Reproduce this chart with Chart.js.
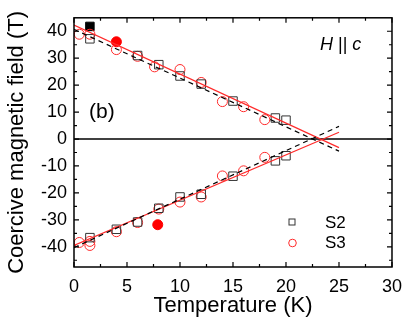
<!DOCTYPE html>
<html><head><meta charset="utf-8">
<script src="https://cdn.jsdelivr.net/npm/chart.js@4.4.1/dist/chart.umd.min.js"></script>
<style>html,body{margin:0;padding:0;background:#fff}</style>
</head><body>
<canvas id="c" width="411" height="324" style="width:411px;height:324px;display:block"></canvas>
<script>
// ---- data ----
const xTicks = [0, 5, 10, 15, 20, 25, 30];
const yTicks = [-40, -30, -20, -10, 0, 10, 20, 30, 40];

const s2PosT = [1.5, 6, 8, 10, 12, 15, 19, 20];
const s2PosH = [37.2, 31, 27.6, 23.4, 20.4, 14.1, 7.8, 7];
const s2NegT = [1.5, 4, 6, 8, 10, 12, 15, 19, 20];
const s2NegH = [-36.6, -33.5, -30.8, -25.7, -21.5, -20.5, -13.8, -8.1, -6.2];

const s3PosT = [0.5, 1.5, 4, 6, 7.6, 10, 12, 14, 16, 18];
const s3PosH = [38.9, 38.9, 33.2, 30.7, 26.8, 25.8, 21, 13.9, 12, 7.2];
const s3NegT = [0.5, 1.5, 1.5, 4, 6, 8, 10, 12, 14, 16, 18];
const s3NegH = [-38.4, -38, -39.5, -34.4, -31, -26, -23.4, -21.5, -13.7, -11.8, -6.8];

const s2FilledT = [1.5];
const s2FilledH = [41.8];
const s3FilledT = [4, 7.9];
const s3FilledH = [36.1, -31.8];

const fitT = [0, 25];
const fitS2Pos = [40.7, -4.5];
const fitS2Neg = [-40.3, 4.7];
const fitS3Pos = [42.3, -3.2];
const fitS3Neg = [-39.5, 2.5];

const pts = (xs, ys) => xs.map((v, i) => ({x: v, y: ys[i]}));

const RED = '#ff2a2a';
const BLK = '#333333';
const FONT = "'Liberation Sans', Arial, sans-serif";

Chart.defaults.font.family = FONT;
Chart.defaults.color = '#000';

const deco = {
  id: 'deco',
  beforeDatasetsDraw(chart) {
    const {ctx, chartArea: a, scales: {y}} = chart;
    ctx.save();
    ctx.strokeStyle = '#000';
    ctx.lineWidth = 1.5;
    const y0 = y.getPixelForValue(0);
    ctx.beginPath(); ctx.moveTo(a.left, y0); ctx.lineTo(a.right, y0); ctx.stroke();
    ctx.restore();
  },
  afterDatasetsDraw(chart) {
    const {ctx, chartArea: a, scales: {x, y}} = chart;
    ctx.save();
    ctx.strokeStyle = '#000';
    ctx.lineWidth = 1.5;
    ctx.strokeRect(a.left, a.top, a.right - a.left, a.bottom - a.top);
    ctx.lineWidth = 1.2;
    ctx.beginPath();
    for (let i = 0; i < xTicks.length; i++) {
      const px = x.getPixelForValue(xTicks[i]);
      ctx.moveTo(px, a.bottom); ctx.lineTo(px, a.bottom - 5);
      ctx.moveTo(px, a.top); ctx.lineTo(px, a.top + 5);
      if (i < xTicks.length - 1) {
        const pm = x.getPixelForValue((xTicks[i] + xTicks[i + 1]) / 2);
        ctx.moveTo(pm, a.bottom); ctx.lineTo(pm, a.bottom - 3);
        ctx.moveTo(pm, a.top); ctx.lineTo(pm, a.top + 3);
      }
    }
    for (let i = 0; i < yTicks.length; i++) {
      const py = y.getPixelForValue(yTicks[i]);
      ctx.moveTo(a.left, py); ctx.lineTo(a.left + 5, py);
      ctx.moveTo(a.right, py); ctx.lineTo(a.right - 5, py);
      const mids = [];
      if (i < yTicks.length - 1) mids.push((yTicks[i] + yTicks[i + 1]) / 2);
      if (i === 0) mids.push(yTicks[0] - 5);
      mids.forEach(m => {
        const pm = y.getPixelForValue(m);
        ctx.moveTo(a.left, pm); ctx.lineTo(a.left + 3, pm);
        ctx.moveTo(a.right, pm); ctx.lineTo(a.right - 3, pm);
      });
    }
    ctx.stroke();

    ctx.fillStyle = '#000';
    ctx.textBaseline = 'middle';
    ctx.textAlign = 'left';
    ctx.font = '21px ' + FONT;
    ctx.fillText('(b)', 89, 112);

    ctx.font = 'italic 18px ' + FONT;
    let tx = 320;
    ctx.fillText('H', tx, 45); tx += ctx.measureText('H').width;
    ctx.font = '18px ' + FONT;
    ctx.fillText(' || ', tx, 45); tx += ctx.measureText(' || ').width;
    ctx.font = 'italic 18px ' + FONT;
    ctx.fillText('c', tx, 45);

    ctx.lineWidth = 1;
    ctx.strokeStyle = BLK;
    ctx.strokeRect(289, 219, 6, 6);
    ctx.strokeStyle = RED;
    ctx.beginPath(); ctx.arc(292.5, 243, 3.8, 0, Math.PI * 2); ctx.stroke();
    ctx.font = '17px ' + FONT;
    ctx.fillText('S2', 325, 223);
    ctx.fillText('S3', 325, 243);
    ctx.restore();
  }
};

const openSq = {pointStyle: 'rect', pointRadius: 6, pointBorderColor: BLK, pointBackgroundColor: 'rgba(0,0,0,0)', pointBorderWidth: 1, showLine: false};
const openCi = {pointStyle: 'circle', pointRadius: 5, pointBorderColor: RED, pointBackgroundColor: 'rgba(0,0,0,0)', pointBorderWidth: 1, showLine: false};
const fitStyle = (c, dash) => ({borderColor: c, borderWidth: 1.2, borderDash: dash, pointRadius: 0, showLine: true, fill: false, tension: 0});

new Chart(document.getElementById('c'), {
  type: 'scatter',
  data: {
    datasets: [
      Object.assign({label: 'fit S2 +', data: pts(fitT, fitS2Pos)}, fitStyle('#000', [5, 4])),
      Object.assign({label: 'fit S2 -', data: pts(fitT, fitS2Neg)}, fitStyle('#000', [5, 4])),
      Object.assign({label: 'fit S3 +', data: pts(fitT, fitS3Pos)}, fitStyle(RED, [])),
      Object.assign({label: 'fit S3 -', data: pts(fitT, fitS3Neg)}, fitStyle(RED, [])),
      Object.assign({label: 'S2', data: pts(s2PosT, s2PosH)}, openSq),
      Object.assign({label: 'S2 neg', data: pts(s2NegT, s2NegH)}, openSq),
      Object.assign({label: 'S3', data: pts(s3PosT, s3PosH)}, openCi),
      Object.assign({label: 'S3 neg', data: pts(s3NegT, s3NegH)}, openCi),
      {label: 'S2 filled', data: pts(s2FilledT, s2FilledH), pointStyle: 'rect', pointRadius: 6, pointBackgroundColor: '#000', pointBorderColor: '#000', pointBorderWidth: 1},
      {label: 'S3 filled', data: pts(s3FilledT, s3FilledH), pointStyle: 'circle', pointRadius: 5, pointBackgroundColor: '#ff0000', pointBorderColor: '#ff0000', pointBorderWidth: 1}
    ]
  },
  options: {
    responsive: false,
    animation: false,
    layout: {padding: {top: 14, right: 17, left: 0, bottom: 0}},
    plugins: {legend: {display: false}, tooltip: {enabled: false}},
    scales: {
      x: {
        type: 'linear', min: 0, max: 30,
        afterBuildTicks: s => { s.ticks = xTicks.map(v => ({value: v})); },
        afterFit: s => { s.height = 57; },
        grid: {display: false, drawTicks: false},
        border: {display: false},
        ticks: {font: {size: 18}, color: '#000', padding: 9, maxRotation: 0, autoSkip: false},
        title: {display: true, text: 'Temperature (K)', font: {size: 22}, color: '#000', padding: {top: 0, bottom: 5}}
      },
      y: {
        type: 'linear', min: -47.5, max: 45,
        afterBuildTicks: s => { s.ticks = yTicks.map(v => ({value: v})); },
        afterFit: s => { s.width = 74; },
        grid: {display: false, drawTicks: false},
        border: {display: false},
        ticks: {font: {size: 18}, color: '#000', padding: 7, autoSkip: false},
        title: {display: true, text: 'Coercive magnetic field (T)', font: {size: 22}, color: '#000', padding: {top: 4, bottom: 0}}
      }
    }
  },
  plugins: [deco]
});
</script>
</body></html>
